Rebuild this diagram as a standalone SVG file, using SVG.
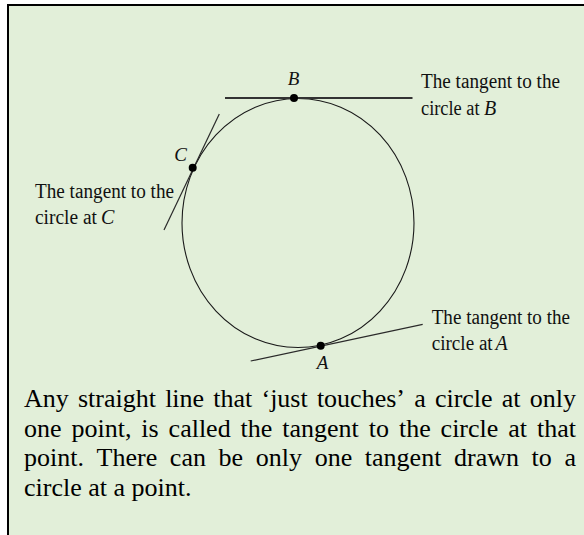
<svg xmlns="http://www.w3.org/2000/svg" width="584" height="535" viewBox="0 0 584 535">
  <style>
    .lbl { font-family: "Liberation Serif", "Times New Roman", serif; font-size: 20px; fill: #111; }
    .pt { font-family: "Liberation Serif", "Times New Roman", serif; font-size: 19px; font-style: italic; fill: #111; }
    .it { font-family: "Liberation Serif", "Times New Roman", serif; font-size: 20px; font-style: italic; fill: #111; }
    .body { font-family: "Liberation Serif", "Times New Roman", serif; font-size: 26px; fill: #000; }
    .tan { stroke: #2a2a2a; stroke-width: 1.2; fill: none; }
    .dot { fill: #000; }
  </style>
  <g id="frame">
    <rect x="9" y="6" width="575" height="529" fill="#e2efd9"/>
    <rect x="7" y="4" width="577" height="2" fill="#000"/>
    <rect x="7" y="4" width="2" height="531" fill="#000"/>
  </g>
  <g id="circle">
    <ellipse cx="298" cy="223" rx="116" ry="124.5" fill="none" stroke="#1a1a1a" stroke-width="1.1"/>
  </g>
  <g id="tangents">
    <line class="tan" x1="225" y1="98" x2="412.5" y2="98" style="stroke-width:1.8;stroke:#333"/>
    <line class="tan" x1="219.3" y1="114" x2="164" y2="230"/>
    <line class="tan" x1="250.7" y1="361" x2="422.7" y2="324.3"/>
  </g>
  <g id="point-B">
    <circle class="dot" cx="294" cy="98" r="4"/>
    <text class="pt" x="293.5" y="85" text-anchor="middle">B</text>
  </g>
  <g id="point-C">
    <circle class="dot" cx="192.7" cy="167.7" r="4"/>
    <text class="pt" x="180.5" y="160.7" text-anchor="middle">C</text>
  </g>
  <g id="point-A">
    <circle class="dot" cx="320.7" cy="345.7" r="4"/>
    <text class="pt" x="322.5" y="369" text-anchor="middle">A</text>
  </g>
  <g id="label-B">
    <text class="lbl" x="421" y="88.3" textLength="139" lengthAdjust="spacingAndGlyphs">The tangent to the</text>
    <text class="lbl" x="421" y="115" textLength="58.6" lengthAdjust="spacingAndGlyphs">circle at</text>
    <text class="it" x="484" y="115">B</text>
  </g>
  <g id="label-C">
    <text class="lbl" x="35" y="198.3" textLength="139" lengthAdjust="spacingAndGlyphs">The tangent to the</text>
    <text class="lbl" x="35" y="224" textLength="62" lengthAdjust="spacingAndGlyphs">circle at</text>
    <text class="it" x="101" y="224">C</text>
  </g>
  <g id="label-A">
    <text class="lbl" x="431.7" y="324.3" textLength="138.3" lengthAdjust="spacingAndGlyphs">The tangent to the</text>
    <text class="lbl" x="431.7" y="350" textLength="61" lengthAdjust="spacingAndGlyphs">circle at</text>
    <text class="it" x="495.5" y="350">A</text>
  </g>
  <g id="caption" class="body">
    <text y="407"><tspan x="24">Any</tspan><tspan x="77.95">straight</tspan><tspan x="165.13">line</tspan><tspan x="213.31">that</tspan><tspan x="261.49">‘just</tspan><tspan x="316.9">touches’</tspan><tspan x="414.17">a</tspan><tspan x="434.89">circle</tspan><tspan x="501.82">at</tspan><tspan x="529.77">only</tspan></text>
    <text y="436.5"><tspan x="24">one</tspan><tspan x="71.46">point,</tspan><tspan x="141.34">is</tspan><tspan x="168.6">called</tspan><tspan x="240.61">the</tspan><tspan x="282.3">tangent</tspan><tspan x="368.76">to</tspan><tspan x="398.91">the</tspan><tspan x="440.6">circle</tspan><tspan x="508.27">at</tspan><tspan x="536.96">that</tspan></text>
    <text y="466"><tspan x="24">point.</tspan><tspan x="96.6">There</tspan><tspan x="169.87">can</tspan><tspan x="218.6">be</tspan><tspan x="255.78">only</tspan><tspan x="314.65">one</tspan><tspan x="364.83">tangent</tspan><tspan x="454.01">drawn</tspan><tspan x="531.62">to</tspan><tspan x="564.49">a</tspan></text>
    <text x="24" y="495.5">circle at a point.</text>
  </g>
</svg>
